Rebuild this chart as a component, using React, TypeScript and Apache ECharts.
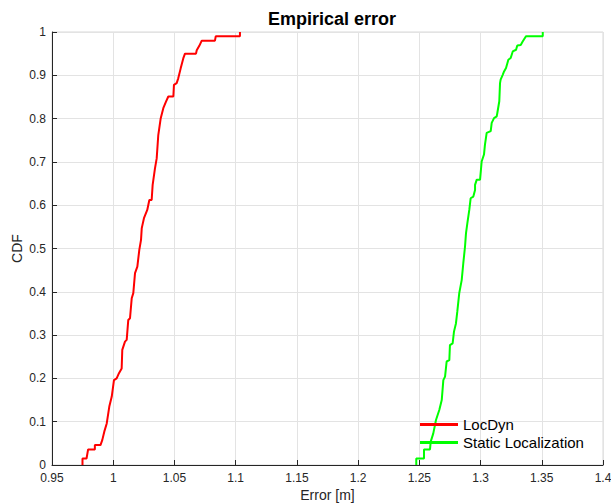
import React, { useEffect, useRef } from "react";
import * as echarts from "echarts";

// Empirical CDF staircases of the localization error [m], as [error, cdf] vertices
const locDyn: [number, number][] = [
  [0.9749, 0], [0.9749, 0.015], [0.9782, 0.015], [0.9795, 0.036], [0.985, 0.036],
  [0.985, 0.046], [0.9896, 0.046], [0.9911, 0.058], [0.9927, 0.077], [0.9947, 0.096],
  [0.9968, 0.135], [0.9988, 0.158], [1.0006, 0.196], [1.0028, 0.2], [1.0047, 0.212],
  [1.0069, 0.223], [1.0074, 0.266], [1.0096, 0.285], [1.011, 0.289], [1.0123, 0.335],
  [1.0137, 0.339], [1.0151, 0.385], [1.0164, 0.397], [1.0178, 0.443], [1.0197, 0.458],
  [1.0213, 0.497], [1.0227, 0.52], [1.0233, 0.547], [1.0251, 0.57], [1.0278, 0.589],
  [1.0295, 0.612], [1.0314, 0.612], [1.0322, 0.647], [1.0341, 0.685], [1.0355, 0.708],
  [1.0368, 0.762], [1.0388, 0.801], [1.0409, 0.824], [1.0431, 0.839], [1.045, 0.851],
  [1.0491, 0.851], [1.0496, 0.878], [1.0518, 0.882], [1.0531, 0.893], [1.0551, 0.916],
  [1.0572, 0.939], [1.0586, 0.95], [1.0676, 0.95], [1.0682, 0.958], [1.0703, 0.968],
  [1.0723, 0.98], [1.0831, 0.98], [1.0837, 0.99], [1.1035, 0.99], [1.1035, 1.0],
];

const staticLoc: [number, number][] = [
  [1.2475, 0], [1.2475, 0.015], [1.2538, 0.015], [1.2538, 0.036], [1.2587, 0.036],
  [1.2593, 0.054], [1.2614, 0.073], [1.2636, 0.104], [1.2663, 0.127], [1.2683, 0.15],
  [1.2696, 0.196], [1.271, 0.204], [1.2723, 0.239], [1.2745, 0.242], [1.275, 0.277],
  [1.2772, 0.281], [1.2783, 0.308], [1.2799, 0.327], [1.281, 0.354], [1.2826, 0.397],
  [1.2846, 0.427], [1.2859, 0.466], [1.2873, 0.504], [1.2881, 0.535], [1.2892, 0.558],
  [1.2908, 0.589], [1.2919, 0.616], [1.2941, 0.62], [1.2955, 0.635], [1.2955, 0.647],
  [1.2969, 0.659], [1.2996, 0.659], [1.3009, 0.701], [1.3028, 0.717], [1.3036, 0.74],
  [1.305, 0.767], [1.3083, 0.771], [1.3091, 0.79], [1.311, 0.801], [1.3132, 0.805],
  [1.3137, 0.813], [1.3153, 0.84], [1.3159, 0.882], [1.3164, 0.89], [1.3181, 0.901],
  [1.3192, 0.909], [1.3208, 0.917], [1.3219, 0.928], [1.3227, 0.936], [1.3246, 0.94],
  [1.3263, 0.955], [1.329, 0.959], [1.33, 0.969], [1.3328, 0.97], [1.3344, 0.978],
  [1.3371, 0.99], [1.3508, 0.99], [1.3508, 1.0],
];

const seriesNames = ["LocDyn", "Static Localization"];
const seriesColors = ["#ff0000", "#00ff00"];

const FONT = "Liberation Sans, Arial, Helvetica, sans-serif";
const INK = "#262626";

export default function App() {
  const ref = useRef<HTMLDivElement>(null);

  useEffect(() => {
    if (!ref.current) return;
    const chart = echarts.init(ref.current, undefined, { renderer: "svg" });
    chart.setOption({
      animation: false,
      backgroundColor: "#ffffff",
      textStyle: { fontFamily: FONT },
      title: {
        text: "Empirical error",
        left: 327,
        textAlign: "center",
        top: 5,
        textStyle: { fontFamily: FONT, fontSize: 18, fontWeight: "bold", color: "#000" },
      },
      grid: {
        left: 52,
        right: 8,
        top: 32,
        bottom: 39,
        outerBoundsMode: "none",
        containLabel: false,
        show: true,
        borderColor: "#d9d9d9",
        borderWidth: 1,
      },
      legend: {
        orient: "vertical",
        left: 420,
        top: 417,
        padding: 0,
        itemWidth: 38,
        itemHeight: 3,
        itemGap: 3,
        icon: "rect",
        textStyle: { fontFamily: FONT, fontSize: 15, color: "#000", lineHeight: 15 },
        data: seriesNames,
      },
      xAxis: {
        type: "value",
        min: 0.95,
        max: 1.4,
        interval: 0.05,
        name: "Error [m]",
        nameLocation: "middle",
        nameGap: 23,
        nameMoveOverlap: false,
        nameTextStyle: { fontFamily: FONT, fontSize: 14, color: INK },
        axisLine: { show: true, lineStyle: { color: INK, width: 1 } },
        axisTick: { show: true, inside: true, length: 5, lineStyle: { color: INK } },
        axisLabel: {
          fontFamily: FONT,
          fontSize: 12,
          color: INK,
          margin: 7,
          formatter: (v: number) => String(+v.toFixed(2)),
        },
        splitLine: { show: true, lineStyle: { color: "#e3e3e3", width: 1 } },
      },
      yAxis: {
        type: "value",
        min: 0,
        max: 1,
        interval: 0.1,
        name: "CDF",
        nameLocation: "middle",
        nameGap: 28,
        nameMoveOverlap: false,
        nameTextStyle: { fontFamily: FONT, fontSize: 14, color: INK },
        axisLine: { show: true, lineStyle: { color: INK, width: 1 } },
        axisTick: { show: true, inside: true, length: 5, lineStyle: { color: INK } },
        axisLabel: {
          fontFamily: FONT,
          fontSize: 12,
          color: INK,
          margin: 6,
          formatter: (v: number) => String(+v.toFixed(1)),
        },
        splitLine: { show: true, lineStyle: { color: "#e3e3e3", width: 1 } },
      },
      series: [
        {
          name: seriesNames[0],
          type: "line",
          data: locDyn,
          symbol: "none",
          showSymbol: false,
          color: seriesColors[0],
          lineStyle: { color: seriesColors[0], width: 2 },
        },
        {
          name: seriesNames[1],
          type: "line",
          data: staticLoc,
          symbol: "none",
          showSymbol: false,
          color: seriesColors[1],
          lineStyle: { color: seriesColors[1], width: 2 },
        },
      ],
    });
    return () => chart.dispose();
  }, []);

  return <div ref={ref} style={{ width: 611, height: 504, position: "absolute", left: 0, top: 0 }} />;
}
